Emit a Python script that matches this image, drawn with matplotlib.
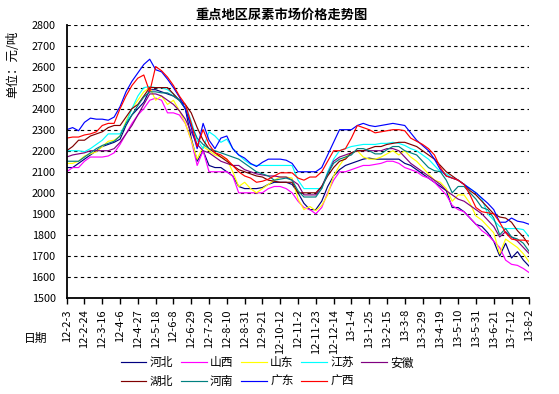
import numpy as np
import matplotlib
matplotlib.use("Agg")
import matplotlib.pyplot as plt

plt.rcParams['font.family'] = ['Noto Sans CJK SC', 'DejaVu Sans']

# 周数据：12-2-3 至 13-8-2，每周一个点
tick_labels = ["12-2-3", "12-2-24", "12-3-16", "12-4-6", "12-4-27", "12-5-18", "12-6-8",
               "12-6-29", "12-7-20", "12-8-10", "12-8-31", "12-9-21", "12-10-12", "12-11-2",
               "12-11-23", "12-12-14", "13-1-4", "13-1-25", "13-2-15", "13-3-8", "13-3-29",
               "13-4-19", "13-5-10", "13-5-31", "13-6-21", "13-7-12", "13-8-2"]

hebei = [2120, 2120, 2140, 2160, 2180, 2200, 2220, 2230, 2240, 2255,
         2320, 2370, 2400, 2430, 2490, 2490, 2480, 2470, 2460, 2440,
         2400, 2260, 2150, 2200, 2130, 2120, 2120, 2100, 2080, 2030,
         2020, 2020, 2020, 2025, 2040, 2050, 2050, 2050, 2040, 2000,
         1950, 1920, 1920, 1960, 2030, 2080, 2110, 2130, 2140, 2150,
         2160, 2165, 2160, 2160, 2160, 2160, 2160, 2140, 2130, 2110,
         2090, 2070, 2050, 2030, 2010, 1930, 1930, 1910, 1880, 1850,
         1840, 1810, 1770, 1700, 1760, 1690, 1720, 1680, 1650]
shanxi = [2100, 2120, 2120, 2150, 2170, 2170, 2170, 2175, 2190, 2230,
          2280, 2330, 2370, 2400, 2440, 2450, 2440, 2380, 2380, 2370,
          2330, 2250, 2130, 2200, 2100, 2100, 2100, 2100, 2080, 2000,
          2000, 2000, 2000, 2000, 2020, 2030, 2030, 2020, 2000, 1960,
          1930, 1920, 1900, 1930, 2000, 2060, 2100, 2100, 2110, 2120,
          2130, 2130, 2135, 2140, 2150, 2150, 2140, 2120, 2110, 2100,
          2080, 2070, 2050, 2020, 1990, 1940, 1920, 1910, 1880, 1850,
          1820, 1800, 1770, 1740, 1680, 1660, 1655, 1640, 1620]
shandong = [2140, 2140, 2150, 2175, 2185, 2195, 2220, 2245, 2250, 2270,
            2340, 2400, 2440, 2480, 2500, 2440, 2460, 2420, 2440, 2390,
            2330, 2250, 2160, 2220, 2200, 2180, 2170, 2160, 2100, 2030,
            2050, 2020, 2000, 2020, 2040, 2060, 2075, 2075, 2070, 1970,
            1920, 1935, 1915, 1940, 1990, 2080, 2130, 2170, 2190, 2200,
            2170, 2160, 2160, 2170, 2185, 2200, 2180, 2200, 2170, 2150,
            2120, 2090, 2060, 2050, 2020, 1960, 1990, 1990, 1950, 1890,
            1870, 1840, 1810, 1710, 1780, 1760, 1740, 1710, 1670]
jiangsu = [2200, 2200, 2200, 2195, 2210, 2230, 2250, 2280, 2280, 2280,
           2330, 2400, 2460, 2500, 2505, 2500, 2500, 2490, 2470, 2440,
           2420, 2340, 2250, 2210, 2290, 2270, 2240, 2255, 2210, 2180,
           2155, 2135, 2130, 2130, 2130, 2130, 2130, 2130, 2130, 2060,
           2020, 2020, 2020, 2020, 2100, 2160, 2200, 2210, 2220, 2225,
           2230, 2230, 2230, 2235, 2235, 2240, 2235, 2225, 2210, 2200,
           2180, 2160, 2130, 2100, 2090, 2070, 2060, 2040, 2020, 2000,
           1970, 1900, 1870, 1840, 1830, 1830, 1830, 1825, 1790]
anhui = [2170, 2180, 2185, 2190, 2200, 2200, 2200, 2200, 2210, 2240,
         2280, 2320, 2370, 2420, 2470, 2470, 2460, 2440, 2420, 2390,
         2350, 2290, 2230, 2200, 2190, 2170, 2150, 2140, 2130, 2130,
         2110, 2100, 2090, 2085, 2080, 2080, 2075, 2075, 2060, 2040,
         1990, 1990, 1990, 2030, 2090, 2150, 2170, 2180, 2190, 2200,
         2200, 2200, 2200, 2200, 2210, 2210, 2200, 2170, 2140, 2120,
         2100, 2080, 2060, 2040, 2010, 1990, 1970, 1960, 1940, 1920,
         1900, 1870, 1840, 1790, 1815, 1790, 1770, 1740, 1710]
hubei = [2200, 2220, 2250, 2250, 2270, 2280, 2290, 2310, 2320, 2320,
         2360, 2400, 2420, 2460, 2500, 2500, 2500, 2500, 2470, 2440,
         2420, 2380, 2310, 2250, 2210, 2190, 2170, 2150, 2130, 2110,
         2100, 2090, 2080, 2075, 2060, 2055, 2050, 2050, 2050, 2000,
         2000, 2000, 2000, 2030, 2080, 2120, 2150, 2160, 2190, 2200,
         2200, 2210, 2220, 2220, 2230, 2235, 2240, 2240, 2230, 2220,
         2200, 2180, 2160, 2130, 2100, 2080, 2060, 2040, 2010, 1990,
         1960, 1930, 1900, 1885, 1880, 1860, 1820, 1790, 1750]
henan = [2150, 2150, 2150, 2170, 2190, 2210, 2225, 2235, 2245, 2270,
         2330, 2370, 2415, 2455, 2480, 2480, 2475, 2475, 2460, 2440,
         2400, 2320, 2260, 2230, 2210, 2200, 2190, 2180, 2170, 2160,
         2140, 2120, 2100, 2090, 2080, 2060, 2065, 2070, 2060, 2010,
         1980, 1980, 1980, 2020, 2090, 2140, 2160, 2170, 2180, 2210,
         2210, 2200, 2185, 2185, 2205, 2220, 2220, 2200, 2190, 2180,
         2150, 2120, 2105, 2100, 2060, 2000, 2030, 2030, 2000, 1970,
         1930, 1920, 1880, 1800, 1830, 1790, 1780, 1760, 1720]
guangdong = [2300, 2310, 2295, 2335, 2355, 2350, 2350, 2345, 2360, 2410,
             2480, 2530, 2570, 2610, 2635, 2585, 2575, 2540, 2500, 2455,
             2400, 2310, 2210, 2330, 2250, 2210, 2260, 2270, 2210, 2180,
             2165, 2140, 2125, 2145, 2160, 2160, 2160, 2155, 2140, 2100,
             2100, 2100, 2100, 2120, 2180, 2240, 2300, 2300, 2300, 2320,
             2330, 2320, 2315, 2320, 2325, 2330, 2325, 2320, 2285, 2250,
             2225, 2200, 2160, 2110, 2080, 2070, 2060, 2040, 2020, 2000,
             1975, 1950, 1920, 1860, 1860, 1880, 1865, 1860, 1850]
guangxi = [2260, 2265, 2265, 2275, 2280, 2290, 2320, 2330, 2330, 2400,
           2460, 2510, 2545, 2560, 2480, 2600, 2580, 2550, 2510, 2460,
           2420, 2330, 2220, 2300, 2230, 2190, 2180, 2160, 2130, 2100,
           2080, 2070, 2050, 2055, 2065, 2080, 2095, 2095, 2095, 2070,
           2060, 2075, 2075, 2100, 2150, 2200, 2200, 2210, 2260, 2320,
           2310, 2300, 2285, 2290, 2295, 2300, 2300, 2295, 2260, 2245,
           2230, 2210, 2180, 2120, 2080, 2070, 2060, 2040, 1990, 1930,
           1910, 1905, 1900, 1860, 1810, 1780, 1775, 1775, 1770]

series = [("河北", hebei, "#000080"), ("山西", shanxi, "#FF00FF"), ("山东", shandong, "#FFFF00"),
          ("江苏", jiangsu, "#00FFFF"), ("安徽", anhui, "#800080"), ("湖北", hubei, "#800000"),
          ("河南", henan, "#008080"), ("广东", guangdong, "#0000FF"), ("广西", guangxi, "#FF0000")]

fig = plt.figure(figsize=(5.59, 3.94), dpi=100)
ax = fig.add_axes([0.1193, 0.2437, 0.8276, 0.6941])

x = np.arange(len(hebei))
handles = []
for name, vals, col in series:
    h, = ax.plot(x, vals, color=col, linewidth=0.85, label=name)
    handles.append(h)

ax.set_xlim(0, len(hebei) - 1)
ax.set_ylim(1500, 2800)
ax.set_yticks(range(1500, 2801, 100))
ax.set_xticks(x[::3])
ax.set_xticklabels(tick_labels, rotation=90, fontsize=8)
ax.tick_params(axis='y', length=0, pad=8, labelsize=7.8)
ax.tick_params(axis='x', direction='out', length=4, width=1, pad=4)

ax.yaxis.grid(True, color='black', linestyle=(0, (3, 3)), linewidth=0.8)
ax.set_axisbelow(True)
for s in ['top', 'right']:
    ax.spines[s].set_visible(False)
for s in ['left', 'bottom']:
    ax.spines[s].set_linewidth(1.3)

fig.text(282 / 559, 1 - 14.5 / 394, "重点地区尿素市场价格走势图", ha='center', va='center',
         fontsize=9.5, fontweight='bold')
fig.text(13 / 559, 1 - 64 / 394, "单位：元/吨", rotation=90, ha='center', va='center', fontsize=9)
fig.text(36 / 559, 1 - 338 / 394, "日期", ha='center', va='center', fontsize=8.5)

# 图例：两行，第一行五项
order = [0, 5, 1, 6, 2, 7, 3, 8, 4]
fig.legend([handles[i] for i in order], [series[i][0] for i in order], ncol=5,
           loc='center', bbox_to_anchor=(0.478, 1 - 372 / 394), frameon=False,
           fontsize=8.5, handlelength=2.2, handletextpad=0.3, columnspacing=0.6,
           labelspacing=0.45, borderpad=0)

fig.savefig("out.png", dpi=100, facecolor='white')
